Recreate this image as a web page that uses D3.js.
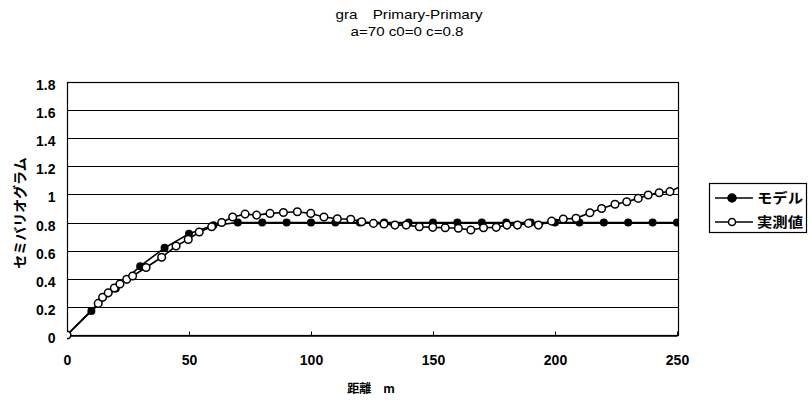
<!DOCTYPE html>
<html>
<head>
<meta charset="utf-8">
<script src="https://cdn.jsdelivr.net/npm/d3@7"></script>
<style>
  body { margin: 0; background: #fff; }
  text { font-family: "Liberation Sans", Arial, sans-serif; fill: #000; }
  .jp { font-family: "Noto Sans CJK JP", sans-serif; font-weight: bold; }
</style>
</head>
<body>
<script>
// model (spherical, a=70 c0=0 c=0.8)
const modelX = [0, 10, 20, 30, 40, 50, 60, 70, 80, 90, 100, 110, 120, 130, 140, 150,
    160, 170, 180, 190, 200, 210, 220, 230, 240, 250];
const modelY = [0, 0.17, 0.33, 0.49, 0.62, 0.72, 0.78, 0.8, 0.8, 0.8, 0.8, 0.8, 0.8, 0.8, 0.8, 0.8,
    0.8, 0.8, 0.8, 0.8, 0.8, 0.8, 0.8, 0.8, 0.8, 0.8];

// measured
const measX = [0, 12.8, 14.6, 16.9, 19.4, 21.7, 24.5, 26.9, 32.4, 38.8, 44.7, 49.7, 54.2, 59.3,
    63.4, 67.9, 73, 77.7, 83.2, 88.7, 94.4, 99.9, 105.3, 110.8, 116.3, 120.8, 125.6, 129.9,
    134.4, 139, 144.4, 149.9, 155, 160.4, 165.5, 170.7, 175.9, 180.3, 184.6, 189.1, 193.2,
    198.6, 203.4, 208.6, 214.3, 219.1, 224.6, 229.4, 234.1, 238.2, 242.7, 247.1, 253];
const measY = [0, 0.225, 0.268, 0.3, 0.334, 0.363, 0.396, 0.42, 0.48, 0.553, 0.633, 0.68, 0.733, 0.77,
    0.8, 0.84, 0.86, 0.853, 0.865, 0.872, 0.877, 0.865, 0.84, 0.827, 0.823, 0.806, 0.794, 0.79,
    0.782, 0.782, 0.77, 0.766, 0.763, 0.759, 0.747, 0.763, 0.766, 0.782, 0.782, 0.794, 0.782,
    0.81, 0.825, 0.83, 0.87, 0.9, 0.93, 0.948, 0.972, 0.996, 1.012, 1.02, 1.07];

const xTicks = [0, 50, 100, 150, 200, 250];
const yTicks = [0, 0.2, 0.4, 0.6, 0.8, 1, 1.2, 1.4, 1.6, 1.8];
const seriesNames = ['モデル', '実測値'];

const width = 812;
const height = 402;
const plotLeft = 67, plotRight = 678, plotTop = 82, plotBottom = 335;

const svg = d3.select('body')
    .append('svg')
    .attr('width', width)
    .attr('height', height);

const xScale = d3.scaleLinear().domain([0, 250]).range([plotLeft, plotRight - 1]);
const yScale = d3.scaleLinear().domain([0, 1.8]).range([plotBottom, plotTop]);

// titles
svg.append('text')
    .attr('x', 409).attr('y', 19)
    .attr('text-anchor', 'middle')
    .attr('font-size', 13)
    .attr('textLength', 147).attr('lengthAdjust', 'spacingAndGlyphs')
    .text('gra\u3000Primary-Primary');
svg.append('text')
    .attr('x', 407).attr('y', 36)
    .attr('text-anchor', 'middle')
    .attr('font-size', 13)
    .attr('textLength', 113).attr('lengthAdjust', 'spacingAndGlyphs')
    .text('a=70 c0=0 c=0.8');

// gridlines
svg.append('g')
    .selectAll('line')
    .data(yTicks.slice(1))
    .enter()
    .append('line')
    .attr('x1', plotLeft).attr('x2', plotRight)
    .attr('y1', d => Math.round(yScale(d)) + 0.5)
    .attr('y2', d => Math.round(yScale(d)) + 0.5)
    .attr('stroke', '#000')
    .attr('stroke-width', 1.2);

// plot border
svg.append('rect')
    .attr('x', plotLeft + 0.5).attr('y', plotTop + 0.5)
    .attr('width', plotRight - plotLeft).attr('height', plotBottom - plotTop)
    .attr('fill', 'none')
    .attr('stroke', '#000')
    .attr('stroke-width', 1.2);

const xAxis = d3.axisBottom(xScale)
    .tickValues(xTicks)
    .tickSizeInner(-4)
    .tickSizeOuter(0)
    .tickPadding(20);

svg.append('g')
    .attr('transform', `translate(0, ${plotBottom + 0.5})`)
    .call(xAxis)
    .call(g => g.select('.domain').attr('stroke-width', 1.5))
    .selectAll('text')
    .attr('font-size', 14)
    .attr('font-weight', 'bold')
    .attr('font-family', '"Liberation Sans", Arial, sans-serif');

const yAxis = d3.axisLeft(yScale)
    .tickValues(yTicks)
    .tickFormat(d3.format('~g'))
    .tickSize(0)
    .tickPadding(12);

svg.append('g')
    .attr('transform', `translate(${plotLeft + 0.5}, 3)`)
    .call(yAxis)
    .call(g => g.select('.domain').remove())
    .selectAll('text')
    .attr('font-size', 14)
    .attr('font-weight', 'bold')
    .attr('font-family', '"Liberation Sans", Arial, sans-serif');

// axis titles
svg.append('text')
    .attr('class', 'jp')
    .attr('transform', 'translate(25, 213) rotate(-90)')
    .attr('text-anchor', 'middle')
    .attr('font-size', 14)
    .text('セミバリオグラム');

svg.append('text')
    .attr('class', 'jp')
    .attr('x', 371).attr('y', 393)
    .attr('text-anchor', 'middle')
    .attr('font-size', 12)
    .text('距離\u3000m');

// series
svg.append('clipPath')
    .attr('id', 'plot')
    .append('rect')
    .attr('x', plotLeft).attr('y', plotTop - 10)
    .attr('width', plotRight - plotLeft).attr('height', plotBottom - plotTop + 20);

const plot = svg.append('g').attr('clip-path', 'url(#plot)');
const line = d3.line().x(d => xScale(d[0])).y(d => yScale(d[1]));

const model = modelX.map((x, i) => [x, modelY[i]]);
const meas = measX.map((x, i) => [x, measY[i]]);

plot.append('path')
    .attr('d', line(model))
    .attr('fill', 'none')
    .attr('stroke', '#000')
    .attr('stroke-width', 1.6);

plot.selectAll('circle.model')
    .data(model)
    .enter()
    .append('circle')
    .attr('class', 'model')
    .attr('cx', d => xScale(d[0]))
    .attr('cy', d => yScale(d[1]))
    .attr('r', 4)
    .attr('fill', '#000');

plot.append('path')
    .attr('d', line(meas))
    .attr('fill', 'none')
    .attr('stroke', '#000')
    .attr('stroke-width', 1.6);

plot.selectAll('circle.meas')
    .data(meas)
    .enter()
    .append('circle')
    .attr('class', 'meas')
    .attr('cx', d => xScale(d[0]))
    .attr('cy', d => yScale(d[1]))
    .attr('r', 3.8)
    .attr('fill', '#fff')
    .attr('stroke', '#000')
    .attr('stroke-width', 1.5);

// legend
const legend = svg.append('g');
legend.append('rect')
    .attr('x', 709.5).attr('y', 183.5)
    .attr('width', 97).attr('height', 49)
    .attr('fill', '#fff')
    .attr('stroke', '#000')
    .attr('stroke-width', 1.2);

seriesNames.forEach((name, i) => {
    const y = 198 + i * 24;
    legend.append('line')
        .attr('x1', 715).attr('x2', 753)
        .attr('y1', y).attr('y2', y)
        .attr('stroke', '#000')
        .attr('stroke-width', 1.6);
    legend.append('circle')
        .attr('cx', 732).attr('cy', y)
        .attr('r', i === 0 ? 4 : 3.5)
        .attr('fill', i === 0 ? '#000' : '#fff')
        .attr('stroke', '#000')
        .attr('stroke-width', 1.5);
    legend.append('text')
        .attr('class', 'jp')
        .attr('x', 757).attr('y', y + 5)
        .attr('font-size', 14)
        .attr('textLength', 46).attr('lengthAdjust', 'spacingAndGlyphs')
        .text(name);
});
</script>
</body>
</html>
